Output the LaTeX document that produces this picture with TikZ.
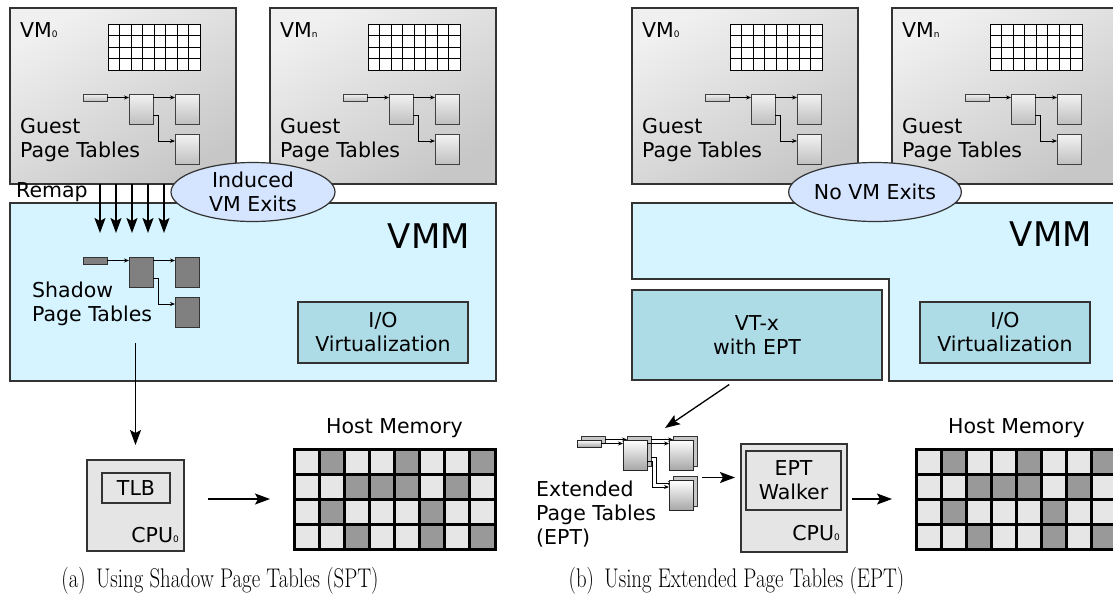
\documentclass[tikz,border=0pt]{standalone}
\usepackage{fontspec}
\setsansfont{DejaVu Sans}
\usepackage{graphicx}
\usepackage{tikz}
\usetikzlibrary{arrows.meta,positioning,shapes.geometric,calc}

\definecolor{vmmcyan}{RGB}{213,244,255}
\definecolor{iocyan}{RGB}{173,219,230}
\definecolor{exitblue}{RGB}{213,229,255}
\definecolor{memlight}{RGB}{230,230,230}
\definecolor{memdark}{RGB}{153,153,153}
\definecolor{edgegray}{RGB}{51,51,51}

\newcommand{\lowsub}[1]{{\fontsize{9}{9}\selectfont #1}}

\tikzset{
  txt/.style={font=\fontsize{20.5}{24}\selectfont\sffamily, inner sep=0pt, align=left},
  bigtxt/.style={font=\fontsize{34}{40}\selectfont\sffamily, inner sep=0pt},
  captxt/.style={font=\fontsize{27}{32}\selectfont\rmfamily, inner sep=0pt},
  vmbox/.style={rectangle, draw=edgegray, line width=1.2pt, top color=black!6, bottom color=black!22, shading angle=30, minimum width=226, minimum height=176, inner sep=0pt, outer sep=0pt},
  vmmbox/.style={rectangle, draw=edgegray, line width=1.2pt, fill=vmmcyan, minimum width=486, minimum height=178, inner sep=0pt, outer sep=0pt},
  vmmfill/.style={draw=edgegray, line width=1.2pt, fill=vmmcyan},
  iobox/.style={rectangle, draw=edgegray, line width=1.2pt, fill=iocyan, align=center, font=\fontsize{20.5}{24}\selectfont\sffamily, minimum width=170, minimum height=61, inner sep=0pt},
  vtxbox/.style={iobox, minimum width=250, minimum height=90},
  exitell/.style={ellipse, draw=edgegray, line width=1.2pt, fill=exitblue, align=center, font=\fontsize{20.5}{24}\selectfont\sffamily, minimum width=164, minimum height=59, inner sep=0pt},
  cpubox/.style={rectangle, draw=edgegray, line width=1.2pt, fill=black!10, inner sep=0pt, outer sep=0pt},
  tlbbox/.style={rectangle, draw=edgegray, line width=1.2pt, fill=black!10, align=center, font=\fontsize{20.5}{24}\selectfont\sffamily, inner sep=0pt},
  vmgrid/.style={draw=black, line width=1pt},
  memnode/.style={rectangle, fill=memlight, minimum width=201, minimum height=100, inner sep=0pt, outer sep=0pt},
  memline/.style={draw=black, line width=3pt, line cap=rect},
  pgsmall/.style={rectangle, minimum width=24, minimum height=7, inner sep=0pt, outer sep=0pt},
  pgpage/.style={rectangle, minimum width=24, minimum height=30, inner sep=0pt, outer sep=0pt},
  guestpg/.style={draw=black!75, line width=0.8pt, top color=black!5, bottom color=black!25},
  shadowpg/.style={draw=edgegray, line width=0.9pt, fill=black!50},
  eptpg/.style={draw=black!85, line width=0.9pt, top color=white, bottom color=black!35},
  eptback/.style={draw=black!80, line width=0.9pt, fill=black!22},
  ptarrow/.style={-{Stealth[length=5pt,width=4pt]}, line width=0.8pt},
  bigarrow/.style={-{Stealth[length=15pt,width=11pt,inset=3pt]}, line width=1.3pt}
}

\begin{document}
\begin{tikzpicture}[x=1pt, y=-1pt]
\useasboundingbox (0,0) rectangle (1113,606);
\clip (0,0) rectangle (1113,606);

% hypervisor layer
\node[vmmbox] (vmm-a) at (253,292) {};
\node[bigtxt, anchor=east] (vmmlbl-a) at (470,236) {VMM};
\node[iobox] (io-a) at (383,332.5) {I/O\\Virtualization};
\draw[vmmfill] (632,203) -- (1118,203) -- (1118,381) -- (889,381) -- (889,279) -- (632,279) -- cycle;
\node[bigtxt, anchor=east] (vmmlbl-b) at (1092,234) {VMM};
\node[iobox] (io-b) at (1005,332.5) {I/O\\Virtualization};
\node[vtxbox] (vtx) at (757,335) {VT-x\\with EPT};

% guest VMs
\foreach \nm/\ox/\sub in {a0/0/0, an/260/n, b0/622/0, bn/882/n}{
  \node[vmbox] (vm-\nm) at ({\ox+123},96) {};
  \node[txt, anchor=west] (vmlbl-\nm) at ({\ox+20},30) {VM\lowsub{\sub}};
  \node[txt, anchor=west] (guest-\nm) at ({\ox+20},140) {Guest\\Page Tables};
  \draw[vmgrid, fill=white] ({\ox+108},24) rectangle ++(92,46);
  \foreach \i in {1,...,7} \draw[vmgrid] ({\ox+108+11.5*\i},24) -- ++(0,46);
  \foreach \j in {1,2,3} \draw[vmgrid] ({\ox+108},{24+11.5*\j}) -- ++(92,0);
}

% page table trees (guest, shadow, EPT back/front)
\foreach \p/\ox/\oy/\st in {ga/0/0/guestpg, gb/260/0/guestpg, gc/622/0/guestpg, gd/882/0/guestpg, sh/0/163/shadowpg, eb/498/342/eptback, ef/494/346/eptpg}{
  \begin{scope}[shift={(\ox,\oy)}]
    \node[\st, pgsmall] (\p-s) at (95,97.5) {};
    \node[\st, pgpage] (\p-m) at (141,109) {};
    \node[\st, pgpage] (\p-t) at (187,109) {};
    \node[\st, pgpage] (\p-l) at (187,149.5) {};
    \draw[ptarrow] (\p-s.east) -- (\p-s.east -| \p-m.west);
    \draw[ptarrow] (\p-s.east -| \p-m.east) -- (\p-s.east -| \p-t.west);
    \draw[ptarrow] ([yshift=-6pt]\p-m.east) -- ++(5,0) |- ([yshift=8.5pt]\p-l.west);
  \end{scope}
}

% VM exits
\node[exitell] (exit-a) at (253,192) {Induced\\VM Exits};
\node[exitell] (exit-b) at (875,192) {No VM Exits};

% remapping into shadow tables
\node[txt, anchor=west] (remap) at (16,192) {Remap};
\foreach \rx in {100,116,132,148,164}
  \draw[bigarrow] (vm-a0.south -| \rx,0) -- ++(0,49);
\node[txt, anchor=west] (shadowlbl) at (32,304) {Shadow\\Page Tables};

% CPUs
\node[cpubox, minimum width=97, minimum height=91] (cpu-a) at (135.5,505.5) {};
\node[tlbbox, minimum width=68, minimum height=30] (tlb) at (136,488) {TLB};
\node[txt, anchor=base east] (cpulbl-a) at (179,542) {CPU\lowsub{0}};
\node[cpubox, minimum width=106, minimum height=108] (cpu-b) at (794,498) {};
\node[tlbbox, minimum width=95, minimum height=59] (walker) at (793.5,480.5) {EPT\\Walker};
\node[txt, anchor=base east] (cpulbl-b) at (840,540) {CPU\lowsub{0}};

\node[txt, anchor=west] (eptlbl) at (536,514) {Extended\\Page Tables\\(EPT)};

% host memory
\foreach \nm/\ox in {a/0, b/622}{
  \node[memnode] (mem-\nm) at ({\ox+394.5},499) {};
  \node[txt, above=11pt of mem-\nm] (memlbl-\nm) {Host Memory};
  \foreach \c/\r in {1/0,4/0,7/0,2/1,3/1,4/1,6/1,1/2,5/2,2/3,5/3,7/3}
    \fill[memdark] ({\ox+294+25.125*\c},{449+25*\r}) rectangle ++(25.125,25);
  \foreach \i in {0,...,8} \draw[memline] ({\ox+294+25.125*\i},449) -- ++(0,100);
  \foreach \j in {0,...,4} \draw[memline] ({\ox+294},{449+25*\j}) -- ++(201,0);
}

% translation paths
\coordinate (spt-out) at (135.5,343);
\draw[bigarrow, shorten >=15pt] (spt-out) -- (cpu-a.north);
\draw[bigarrow, shorten <=24pt, shorten >=24pt] (cpu-a.east |- mem-a.west) -- (mem-a.west);
\draw[bigarrow, shorten <=7pt] ([xshift=-22pt]vtx.south) -- ([xshift=-4pt,yshift=12pt]ef-t.north west);
\coordinate (ept-out) at ([xshift=5pt,yshift=-1pt]eb-l.north east);
\draw[bigarrow, shorten >=6pt] (ept-out) -- (ept-out -| cpu-b.west);
\draw[bigarrow, shorten <=5pt, shorten >=24pt] (cpu-b.east |- mem-b.west) -- (mem-b.west);

% captions
\node[captxt] (cap-a) at (220,581) {\scalebox{0.77}[1]{(a)\enspace Using Shadow Page Tables (SPT)}};
\node[captxt] (cap-b) at (736.5,581) {\scalebox{0.77}[1]{(b)\enspace Using Extended Page Tables (EPT)}};
\end{tikzpicture}
\end{document}
